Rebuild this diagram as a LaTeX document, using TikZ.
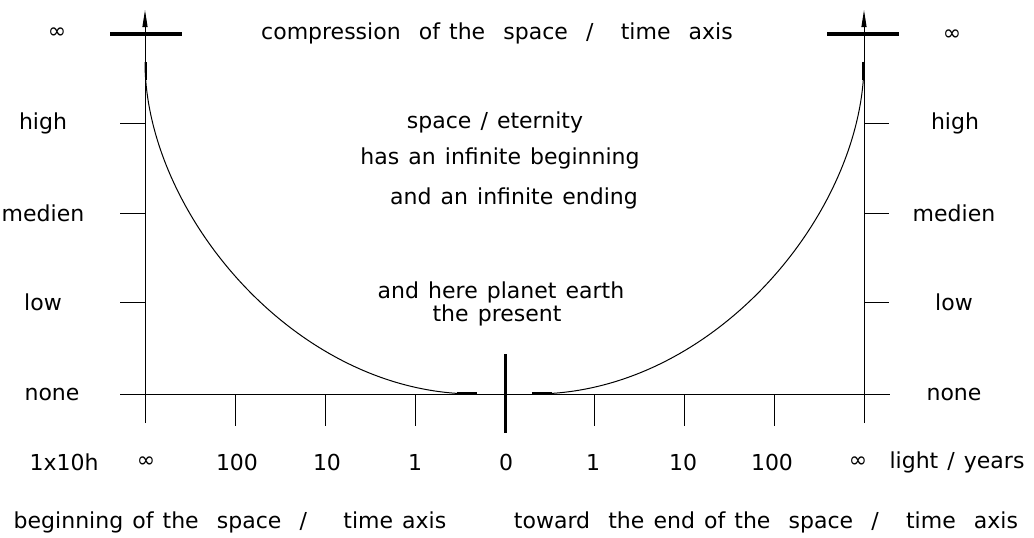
\documentclass[tikz,border=0pt]{standalone}
\usepackage{fontspec}
\setmainfont{DejaVu Sans}[WordSpace=1.3]
\usetikzlibrary{arrows.meta}
\begin{document}
\begin{tikzpicture}[x=1pt,y=-1pt,
  lbl/.style={inner sep=0pt,font=\fontsize{22}{26}\selectfont},
  axisline/.style={line width=1pt},
  upto/.style={-{Triangle[length=17pt,width=5pt]}}]
\useasboundingbox (0,0) rectangle (1034,538);
\draw[axisline,upto] (145,423) -- (145,10);
\draw[axisline,upto] (864,423) -- (864,10);
\draw[line width=3.5pt] (110,34) -- (182,34);
\draw[line width=3.5pt] (827,34) -- (899,34);
\draw[axisline] (120,394) -- (890,394);
\draw[axisline] (120,123) -- (145,123);
\draw[axisline] (120,213) -- (145,213);
\draw[axisline] (120,302) -- (145,302);
\draw[axisline] (864,123) -- (889,123);
\draw[axisline] (864,213) -- (889,213);
\draw[axisline] (864,302) -- (889,302);
\draw[axisline] (235,394) -- (235,426);
\draw[axisline] (325,394) -- (325,426);
\draw[axisline] (415,394) -- (415,426);
\draw[axisline] (594,394) -- (594,426);
\draw[axisline] (684,394) -- (684,426);
\draw[axisline] (774,394) -- (774,426);
\draw[line width=3pt] (505,354) -- (505,433);
\draw[axisline] (145,62) .. controls (145,212) and (295,394) .. (475,394);
\draw[axisline] (864,62) .. controls (864,212) and (714,394) .. (534,394);
\draw[line width=2.5pt] (457,393) -- (477,393);
\draw[line width=2.5pt] (532,393) -- (552,393);
\draw[line width=2.5pt] (146,62) -- (146,80);
\draw[line width=2.5pt] (863,62) -- (863,80);
\node[lbl] (inftopl) at (57,33) {∞};
\node[lbl] (title) at (497,33) {compression\ \ of the\ \ space\ \ /\ \ \ time\ \ axis};
\node[lbl] (inftopr) at (952,35) {∞};
\node[lbl] (highl) at (43,123) {high};
\node[lbl] (medienl) at (43,213) {medien};
\node[lbl] (lowl) at (43,302) {low};
\node[lbl] (nonel) at (52,394) {none};
\node[lbl] (highr) at (955,123) {high};
\node[lbl] (medienr) at (954,213) {medien};
\node[lbl] (lowr) at (954,302) {low};
\node[lbl] (noner) at (954,394) {none};
\node[lbl] (eternity) at (495,122) {space / eternity};
\node[lbl] (begin) at (500,158) {has an infinite beginning};
\node[lbl] (ending) at (514,198) {and an infinite ending};
\node[lbl] (earth) at (501,292) {and here planet earth};
\node[lbl] (present) at (497,315) {the present};
\node[lbl] (unit) at (64,462) {1x10h};
\node[lbl] (xinfl) at (146,462) {∞};
\node[lbl] (xhundl) at (237,462) {100};
\node[lbl] (xtenl) at (327,462) {10};
\node[lbl] (xonel) at (415,462) {1};
\node[lbl] (xzero) at (506,462) {0};
\node[lbl] (xoner) at (593,462) {1};
\node[lbl] (xtenr) at (683,462) {10};
\node[lbl] (xhundr) at (772,462) {100};
\node[lbl] (xinfr) at (858,462) {∞};
\node[lbl] (years) at (957,462) {light / years};
\node[lbl] (startaxis) at (230,522) {beginning of the\ \ space\ \ /\ \ \ \ time axis};
\node[lbl] (endaxis) at (766,522) {toward\ \ the end of the\ \ space\ \ /\ \ \ time\ \ axis};
\end{tikzpicture}
\end{document}
